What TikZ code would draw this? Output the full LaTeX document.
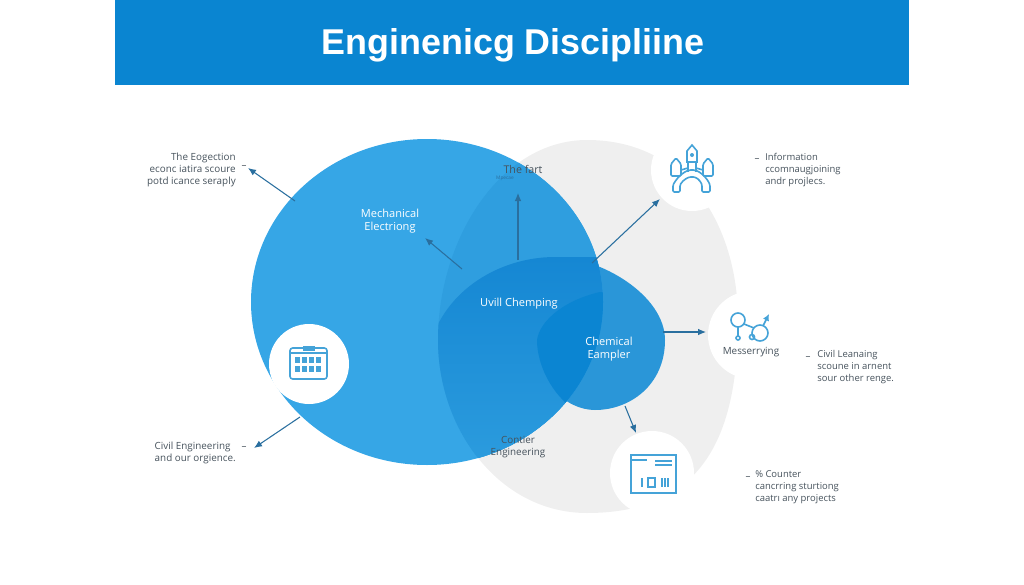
\documentclass[tikz,border=0pt]{standalone}
\usepackage{fontspec}
\setmainfont{Open Sans}
\newfontfamily\bannerfont{Liberation Sans}
\usetikzlibrary{arrows.meta,positioning,shapes.geometric}
\definecolor{bannerblue}{HTML}{0A85D1}
\definecolor{bigblue}{HTML}{36A6E6}
\definecolor{overblue}{HTML}{2F9EDF}
\definecolor{midblue}{HTML}{1587D3}
\definecolor{lowblue}{HTML}{2C9CDE}
\definecolor{chemblue}{HTML}{2A96D8}
\definecolor{deepblue}{HTML}{0B85D2}
\definecolor{paleback}{HTML}{EFEFEF}
\definecolor{arrowblue}{HTML}{2A6F9F}
\definecolor{iconblue}{HTML}{45A3D8}
\definecolor{inkgrey}{HTML}{46525C}
\tikzstyle{heading}=[
	text=inkgrey,
	font=\fontsize{7.4}{8.8}\selectfont,
	inner sep=0]
\tikzstyle{leftnote}=[
	heading,
	align=right,
	anchor=east]
\tikzstyle{rightnote}=[
	heading,
	font=\fontsize{7.1}{8.8}\selectfont,
	align=left,
	anchor=west]
\tikzstyle{inner}=[
	text=white,
	align=center,
	font=\fontsize{8.3}{10}\selectfont,
	inner sep=0]
\tikzstyle{hole}=[
	circle,
	fill=white,
	inner sep=0]
\tikzstyle{pointer}=[
	-{Latex[length=6pt,width=5pt]},
	thick,
	arrowblue]
\tikzstyle{icon}=[
	iconblue,
	line width=1.2pt]
\def\backshape{(587,140) .. controls (690,140) and (738,230) .. (738,320) .. controls (738,440) and (700,513) .. (587,513) .. controls (500,513) and (438,430) .. (438,340) .. controls (438,240) and (500,140) .. (587,140) -- cycle}
\def\bigshape{(427,302) ellipse [x radius=176,y radius=163]}
\def\chemshape{(555,257) .. controls (600,257) and (665,295) .. (665,340) .. controls (665,385) and (630,410) .. (595,410) .. controls (565,410) and (535,380) .. (535,340) .. controls (535,310) and (545,280) .. (555,257) -- cycle}
\def\deepshape{(537,340) .. controls (540,320) and (565,300) .. (600,292) -- (620,292) -- (620,420) -- (575,410) .. controls (552,395) and (537,365) .. (537,340) -- cycle}
\begin{document}
\begin{tikzpicture}[x=.75pt,y=-.75pt]
	\useasboundingbox (0,0) rectangle (1024,585);
	\node[fill=bannerblue,minimum width=595.5pt,minimum height=63.75pt,inner sep=0] (banner) at (512,42.5) {};
	\node[text=white,font=\bannerfont\fontsize{26.9}{32}\selectfont\bfseries] (title) at (513,45) {Enginenicg Discipliine};

	\fill[paleback] \backshape;
	\fill[chemblue] \chemshape;
	\fill[bigblue] \bigshape;
	\begin{scope}
		\clip \bigshape;
		\fill[overblue] \backshape;
		\begin{scope}
			\clip \backshape;
			\shade[top color=midblue,bottom color=lowblue] (430,345) .. controls (445,290) and (500,257) .. (555,257) -- (640,257) -- (640,470) -- (430,470) -- cycle;
		\end{scope}
		\fill[deepblue] \deepshape;
	\end{scope}

	\node[hole,minimum size=60pt] (calendar) at (309,364) {};
	\node[hole,minimum size=61.5pt] (castle) at (692,170) {};
	\node[hole,minimum size=66pt] (molecule) at (752,335) {};
	\node[hole,minimum size=63pt] (window) at (652,473) {};

	\node[inner] (mech) at (390,221) {Mechanical\\Electriong};
	\node[inner] (uvill) at (519,304) {Uvill Chemping};
	\node[inner] (chem) at (609,349) {Chemical\\Eampler};
	\node[heading,align=center] (contier) at (518,447) {Contier\\Engineering};
	\node[heading,font=\fontsize{8}{10}\selectfont] (fart) at (523,169) {The fart};
	\node[text=arrowblue,font=\fontsize{3.6}{4}\selectfont,inner sep=0] (fartsub) at (505,178) {Mpecae};

	\node[leftnote] (eogection) at (236,170) {The Eogection\\econc iatira scoure\\potd icance seraply};
	\node[leftnote,align=left] (civil) at (236,453) {Civil Engineering\\and our orgience.};
	\node[rightnote] (info) at (765,170) {Information\\ccomnaugjoining\\andr projlecs.};
	\node[rightnote] (learning) at (817,367) {Civil Leanaing\\scoune in arnent\\sour other renge.};
	\node[rightnote] (counter) at (755,487) {\% Counter\\cancrring sturtiong\\caatrı any projects};
	\node[heading] (messer) at (751,352) {Messerrying};

	\coordinate (eoA) at (295,201);
	\coordinate (eoB) at (248,168);
	\coordinate (meA) at (462,269);
	\coordinate (meB) at (425,238);
	\coordinate (faA) at (518,260);
	\coordinate (faB) at (518,193);
	\coordinate (caA) at (592,263);
	\coordinate (caB) at (660,199);
	\coordinate (moA) at (663,332);
	\coordinate (moB) at (706,332);
	\coordinate (wiA) at (625,406);
	\coordinate (wiB) at (636,433);
	\coordinate (ciA) at (300,417);
	\coordinate (ciB) at (254,448);
	\draw[pointer] (eoA) -- (eoB);
	\draw[pointer] (meA) -- (meB);
	\draw[pointer] (faA) -- (faB);
	\draw[pointer] (caA) -- (caB);
	\draw[pointer] (moA) -- (moB);
	\draw[pointer] (wiA) -- (wiB);
	\draw[pointer] (ciA) -- (ciB);

	\node[heading] (dashA) at (244,167) {--};
	\node[heading] (dashB) at (757,160) {--};
	\node[heading] (dashC) at (808,358) {--};
	\node[heading] (dashD) at (748,478) {--};
	\node[heading] (dashE) at (244,448) {--};

	\begin{scope}[shift={(calendar.center)}]
		\draw[icon,rounded corners=2] (-19,-16) rectangle (18,15);
		\draw[icon] (-19,-11) -- (18,-11);
		\fill[iconblue] (-6,-18) rectangle (6,-13);
		\foreach \px in {-14,-7,0,7} {
			\fill[iconblue] (\px,-7) rectangle +(5,6);
			\fill[iconblue] (\px,2) rectangle +(5,6);
		}
	\end{scope}
	\begin{scope}[shift={(castle.center)}]
		\draw[icon,rounded corners=1] (-19,22) -- (-19,15) .. controls (-14,6) and (-6,0) .. (0,0) .. controls (6,0) and (14,6) .. (18,15) -- (18,22) -- (10,22) -- (10,15) .. controls (8,10) and (4,7) .. (0,7) .. controls (-4,7) and (-9,10) .. (-12,15) -- (-12,22) -- cycle;
		\draw[icon] (-4,2) -- (-4,-8) (4,2) -- (4,-8);
		\draw[icon] (-5,-8) -- (-5,-19) -- (0,-25) -- (5,-19) -- (5,-8) -- cycle;
		\fill[iconblue] (0,-15) circle (2);
		\draw[icon,rounded corners=1] (-21,6) -- (-21,-6) -- (-16,-12) -- (-11,-6) -- (-11,6) -- cycle;
		\draw[icon,rounded corners=1] (21,6) -- (21,-6) -- (16,-12) -- (11,-6) -- (11,6) -- cycle;
		\draw[icon] (-11,0) -- (-4,-2) (11,0) -- (4,-2);
	\end{scope}
	\begin{scope}[shift={(molecule.center)}]
		\draw[icon] (-14,-15) circle (7);
		\draw[icon] (8,-2) circle (8);
		\draw[icon] (-8,-11) -- (2,-7);
		\draw[icon] (-14,-8) -- (-14,1);
		\draw[icon] (-14,3) circle (2);
		\draw[icon] (0,2) circle (2.5);
		\draw[icon,-{Latex[length=5pt,width=5pt]}] (11,-9) -- (17,-21);
	\end{scope}
	\begin{scope}[shift={(window.center)}]
		\draw[icon] (-21,-18) rectangle (24,20);
		\draw[icon] (-21,-13) -- (-5,-13);
		\draw[icon] (3,-12) -- (20,-12) (3,-8) -- (20,-8);
		\draw[icon] (-10,5) -- (-10,14);
		\draw[icon] (-4,5) rectangle (3,14);
		\draw[icon] (10,5) -- (10,14) (13,5) -- (13,14) (16,5) -- (16,14);
	\end{scope}
\end{tikzpicture}
\end{document}
